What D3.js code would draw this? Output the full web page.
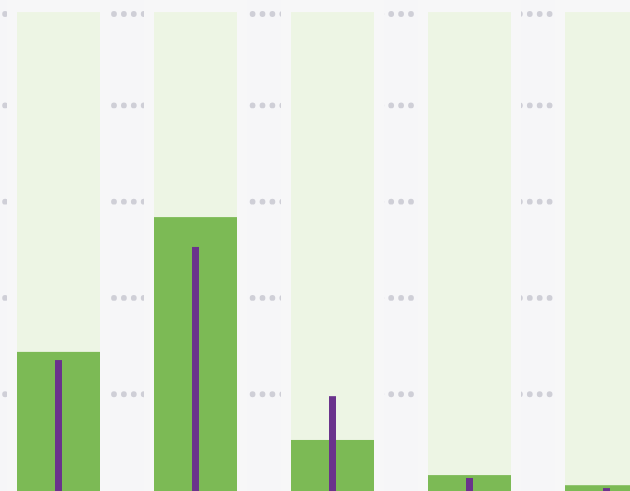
<!DOCTYPE html>
<html>
<head>
<meta charset="utf-8">
<script src="https://cdn.jsdelivr.net/npm/d3@7"></script>
<style>
  html, body { margin: 0; padding: 0; background: #f6f6f8; }
  svg { display: block; }
</style>
</head>
<body>
<div id="chart"><svg></svg></div>
<script>
const categories = ["A", "B", "C", "D", "E"];
const maxValues = [99.4, 99.4, 99.4, 99.4, 99.4];
const actualValues = [28.8, 56.8, 10.5, 3.2, 1.1];
const targetValues = [27.1, 50.6, 19.6, 2.6, 0.5];
const gridTicks = [20, 40, 60, 80, 99];

const width = 630;
const height = 491;

let svg = d3.select("#chart")
			.select("svg")
			.attr("width", width)
			.attr("height", height);

// band layout: 83px bands on a 137px step, starting at 17
let x = d3.scaleBand()
			.domain(categories)
			.range([0, 665])
			.paddingInner(54/137)
			.paddingOuter(17/137);

let y = d3.scaleLinear()
			.domain([0, 99])
			.range([490.5, 14]);

svg.append("rect")
	.attr("width", width)
	.attr("height", height)
	.attr("fill", "#f6f6f8");

// dotted gridlines
svg.selectAll("line.grid")
	.data(gridTicks)
	.enter()
	.append("line")
	.attr("class", "grid")
	.attr("x1", 5.1)
	.attr("x2", width + 20)
	.attr("y1", d => y(d))
	.attr("y2", d => y(d))
	.attr("stroke", "#cfcfd7")
	.attr("stroke-width", 5.8)
	.attr("stroke-linecap", "round")
	.attr("stroke-dasharray", "0 9.9");

// outer strip around each column hides the grid
svg.selectAll("rect.strip")
	.data(categories)
	.enter()
	.append("rect")
	.attr("class", "strip")
	.attr("x", d => x(d) - 10)
	.attr("width", x.bandwidth() + 20)
	.attr("y", 0)
	.attr("height", height)
	.attr("fill", "#f7f7f8");

let cols = categories.map((c, i) => ({cat: c, max: maxValues[i], actual: actualValues[i], target: targetValues[i]}));

svg.selectAll("rect.bg")
	.data(cols)
	.enter()
	.append("rect")
	.attr("class", "bg")
	.attr("x", d => x(d.cat))
	.attr("width", x.bandwidth())
	.attr("y", d => y(d.max))
	.attr("height", d => height - y(d.max))
	.attr("fill", "#edf5e4");

svg.selectAll("rect.actual")
	.data(cols)
	.enter()
	.append("rect")
	.attr("class", "actual")
	.attr("x", d => x(d.cat))
	.attr("width", x.bandwidth())
	.attr("y", d => y(d.actual))
	.attr("height", d => height - y(d.actual))
	.attr("fill", "#7cba55");

svg.selectAll("rect.target")
	.data(cols)
	.enter()
	.append("rect")
	.attr("class", "target")
	.attr("x", d => x(d.cat) + x.bandwidth()/2 - 3.5)
	.attr("width", 7)
	.attr("y", d => y(d.target))
	.attr("height", d => height - y(d.target))
	.attr("fill", "#6a338c");
</script>
</body>
</html>
